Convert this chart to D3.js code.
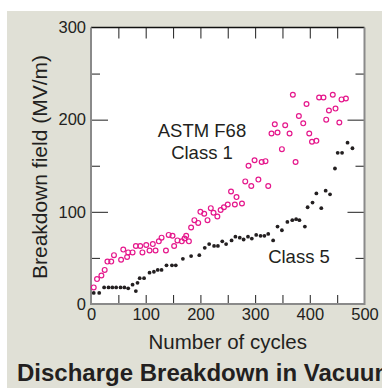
<!DOCTYPE html>
<html>
<head>
<meta charset="utf-8">
<script src="https://cdn.jsdelivr.net/npm/d3@7"></script>
<style>
  body { margin: 0; background: #fff; }
  svg { display: block; font-family: "Liberation Sans", Arial, sans-serif; }
</style>
</head>
<body>
<div id="chart"></div>
<script>
// Class 1 (open magenta circles): cycle number / breakdown field
let cycles1 = [5, 11, 19, 25, 30, 37, 42, 55, 59, 66, 68, 76, 82, 90, 94, 101, 107, 113, 118, 124,
  129, 137, 142, 149, 152, 158, 166, 171, 174, 179, 183, 189, 196, 200, 207, 213, 219, 224, 231, 237,
  243, 250, 256, 263, 266, 276, 282, 288, 293, 299, 306, 312, 319, 324, 330, 336, 341, 349, 355, 363,
  369, 374, 380, 388, 394, 399, 404, 412, 417, 425, 430, 435, 442, 447, 454, 458, 466];
let field1 = [18, 27, 31, 37, 46, 46, 53, 48, 59, 51, 56, 56, 63, 63, 56, 64, 58, 65, 58, 68,
  72, 58, 75, 74, 63, 69, 68, 71, 74, 68, 83, 91, 88, 100, 98, 91, 104, 99, 95, 102,
  105, 108, 122, 108, 116, 109, 133, 150, 128, 156, 135, 154, 155, 128, 185, 195, 186, 168, 194, 185,
  227, 154, 204, 196, 217, 185, 176, 177, 224, 224, 200, 210, 227, 212, 197, 222, 223];

// Class 5 (black dots)
let cycles5 = [5, 15, 24, 32, 39, 46, 54, 61, 68, 76, 82, 85, 89, 97, 107, 115, 122, 129, 138, 148,
  155, 168, 183, 198, 208, 216, 225, 232, 240, 247, 257, 264, 272, 279, 287, 294, 302, 310, 317, 324,
  333, 341, 349, 359, 368, 375, 381, 391, 396, 405, 412, 421, 429, 437, 446, 451, 459, 469, 478];
let field5 = [12, 12, 18, 18, 18, 18, 18, 18, 17, 21, 14, 23, 28, 28, 34, 35, 37, 37, 42, 42,
  42, 49, 52, 53, 61, 65, 63, 63, 68, 65, 69, 73, 72, 70, 73, 71, 75, 74, 74, 76,
  69, 84, 80, 89, 91, 92, 91, 84, 105, 110, 120, 104, 123, 119, 147, 164, 164, 175, 169];

let xTicks = [0, 100, 200, 300, 400, 500];
let yTicks = [0, 100, 200, 300];

const W = 382, H = 388;
const margin = {top: 27.5, right: 17.5, bottom: 84, left: 91};

let svg = d3.select("#chart").append("svg")
    .attr("width", W)
    .attr("height", H);

// grey panel behind everything
svg.append("rect")
    .attr("x", 7).attr("y", 11)
    .attr("width", W - 7).attr("height", H - 11)
    .attr("fill", "#e0e0d6");

let x = d3.scaleLinear().domain([0, 500]).range([margin.left, W - margin.right]);
let y = d3.scaleLinear().domain([0, 300]).range([H - margin.bottom, margin.top]);

// plot area
svg.append("rect")
    .attr("x", x(0)).attr("y", y(300))
    .attr("width", x(500) - x(0)).attr("height", y(0) - y(300))
    .attr("fill", "#fff");

let ink = "#231f20";

// inward ticks, every 50 on top and bottom
let minorX = d3.range(50, 500, 50);
svg.append("g")
    .attr("transform", `translate(0,${y(0)})`)
    .call(d3.axisBottom(x).tickValues(minorX).tickSize(-9).tickFormat(""));
svg.append("g")
    .attr("transform", `translate(0,${y(300)})`)
    .call(d3.axisTop(x).tickValues(minorX).tickSize(-11).tickFormat(""));

// left / right: long ticks at 100s, short at 50s
[[d3.axisLeft, x(0)], [d3.axisRight, x(500)]].forEach(([ax, xp]) => {
    svg.append("g")
        .attr("transform", `translate(${xp},0)`)
        .call(ax(y).tickValues([100, 200]).tickSize(-17).tickFormat(""));
    svg.append("g")
        .attr("transform", `translate(${xp},0)`)
        .call(ax(y).tickValues([50, 150, 250]).tickSize(-9).tickFormat(""));
});

svg.selectAll(".domain").remove();
svg.selectAll(".tick line").attr("stroke", "#333").attr("stroke-width", 1.1);

// tick labels
let xl = svg.append("g")
    .attr("transform", `translate(0,${y(0)})`)
    .call(d3.axisBottom(x).tickValues(xTicks).tickSize(0).tickPadding(4));
let yl = svg.append("g")
    .attr("transform", `translate(${x(0)},0)`)
    .call(d3.axisLeft(y).tickValues(yTicks).tickSize(0).tickPadding(5));
[xl, yl].forEach(g => {
    g.select(".domain").remove();
    g.selectAll("text")
        .attr("font-family", "Liberation Sans, Arial, sans-serif")
        .attr("font-size", 16.5)
        .attr("fill", ink);
});

// frame: black top, grey elsewhere
svg.append("line")
    .attr("x1", x(0)).attr("x2", x(500)).attr("y1", y(300)).attr("y2", y(300))
    .attr("stroke", "#111").attr("stroke-width", 1.3);
svg.append("path")
    .attr("d", `M${x(0)},${y(300)} V${y(0)} H${x(500)} V${y(300)}`)
    .attr("fill", "none")
    .attr("stroke", "#8a8a8a").attr("stroke-width", 2);

// data
let class1 = cycles1.map((c, i) => ({c: c, f: field1[i]}));
let class5 = cycles5.map((c, i) => ({c: c, f: field5[i]}));

svg.append("g").selectAll("circle")
    .data(class5)
    .enter()
    .append("circle")
    .attr("cx", d => x(d.c))
    .attr("cy", d => y(d.f))
    .attr("r", 1.9)
    .attr("fill", ink);

svg.append("g").selectAll("circle")
    .data(class1)
    .enter()
    .append("circle")
    .attr("cx", d => x(d.c))
    .attr("cy", d => y(d.f))
    .attr("r", 2.4)
    .attr("fill", "none")
    .attr("stroke", "#e5188c")
    .attr("stroke-width", 1.2);

// annotations
let note = (txt, cx, by) => svg.append("text")
    .attr("x", cx).attr("y", by)
    .attr("text-anchor", "middle")
    .attr("font-size", 18.5)
    .attr("fill", ink)
    .text(txt);
note("ASTM F68", 202, 137);
note("Class 1", 202, 159);
note("Class 5", 299, 263);

// axis titles
svg.append("text")
    .attr("x", (x(0) + x(500)) / 2).attr("y", 349)
    .attr("text-anchor", "middle")
    .attr("font-size", 20.5)
    .attr("fill", ink)
    .text("Number of cycles");

svg.append("text")
    .attr("transform", `translate(47,167) rotate(-90)`)
    .attr("text-anchor", "middle")
    .attr("font-size", 21)
    .attr("fill", ink)
    .text("Breakdown field (MV/m)");

// title, runs off the right edge like the original
svg.append("text")
    .attr("x", 17).attr("y", 381)
    .attr("font-size", 24)
    .attr("font-weight", "bold")
    .attr("fill", ink)
    .text("Discharge Breakdown in Vacuum");
</script>
</body>
</html>
